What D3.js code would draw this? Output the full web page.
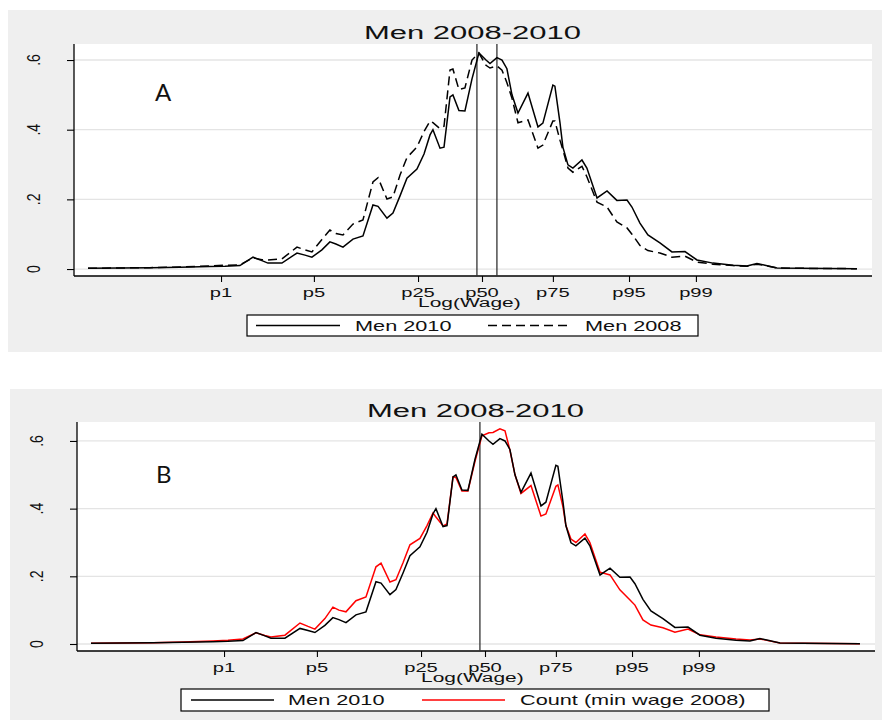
<!doctype html>
<html lang="en">
<head>
<meta charset="utf-8">
<title>Men 2008-2010</title>
<script src="https://d3js.org/d3.v7.min.js"></script>
<style>
  body { margin: 0; background: #fff; }
  text { font-family: "Liberation Sans", Arial, sans-serif; fill: #111; }
  .panel-label { font-family: Lato, "Open Sans", sans-serif; }
</style>
</head>
<body>
<div id="chart"></div>
<script>
var logWage = [4.000,4.208,4.403,4.598,4.793,4.891,4.988,5.073,5.131,5.170,
  5.261,5.359,5.411,5.456,5.521,5.573,5.612,5.658,5.723,5.788,
  5.853,5.886,5.944,5.983,6.029,6.074,6.139,6.185,6.224,6.243,
  6.289,6.315,6.354,6.373,6.412,6.451,6.497,6.542,6.588,6.614,
  6.659,6.692,6.724,6.757,6.796,6.861,6.926,6.958,7.023,7.036,
  7.069,7.088,7.121,7.153,7.212,7.244,7.310,7.375,7.439,7.505,
  7.537,7.589,7.641,7.719,7.797,7.882,7.960,8.064,8.194,8.285,
  8.350,8.402,8.480,8.629,9.000];

var men2010 = [.002,.003,.004,.005,.007,.008,.010,.034,.024,.017,
  .017,.046,.040,.034,.055,.078,.072,.063,.086,.095,
  .184,.180,.146,.161,.210,.261,.287,.330,.385,.400,
  .347,.350,.494,.500,.455,.454,.546,.620,.600,.590,
  .607,.600,.575,.500,.448,.505,.408,.419,.528,.525,
  .420,.350,.299,.290,.313,.290,.204,.224,.197,.198,
  .178,.132,.098,.075,.049,.050,.026,.017,.011,.009,
  .016,.011,.003,.002,.001];

var men2008 = [.002,.003,.004,.006,.009,.011,.012,.032,.027,.026,
  .029,.063,.055,.049,.085,.112,.102,.098,.129,.141,
  .250,.262,.201,.207,.270,.320,.350,.395,.425,.420,
  .403,.410,.571,.574,.515,.520,.600,.620,.585,.577,
  .583,.571,.535,.490,.420,.428,.347,.356,.425,.425,
  .370,.342,.290,.278,.295,.265,.192,.178,.135,.118,
  .100,.068,.053,.046,.034,.037,.020,.014,.010,.008,
  .014,.010,.003,.002,.001];

var countMinWage2008 = [.002,.003,.004,.006,.009,.011,.015,.033,.025,.021,
  .026,.062,.052,.044,.075,.109,.100,.095,.128,.139,
  .228,.239,.183,.190,.240,.293,.312,.350,.387,.375,
  .349,.355,.494,.492,.452,.452,.540,.615,.624,.625,
  .636,.630,.573,.500,.445,.468,.378,.384,.466,.470,
  .405,.350,.310,.300,.325,.300,.212,.204,.160,.130,
  .115,.071,.056,.048,.035,.044,.027,.021,.015,.012,
  .015,.010,.003,.002,.001];

// percentile ticks on the log wage axis
var pctLabels = ["p1","p5","p25","p50","p75","p95","p99"];
var pctValues = [4.865,5.469,6.146,6.562,7.023,7.518,7.953];
var yTickValues = [0, .2, .4, .6];
var yTickLabels = ["0", ".2", ".4", ".6"];
var refLinesA = [6.529, 6.659];
var refLinesB = [6.529];

var SX = 1.55; // horizontal stretch of the stata text

var W = 882, H = 720;
var svg = d3.select("#chart").append("svg")
  .attr("width", W).attr("height", H);

var panels = [
  { bg: [8, 10, 874, 342], left: 74, top: 44, width: 798, height: 232,
    yDomain: [-0.02, 0.646], label: "A", labelPos: [155, 101], refLines: refLinesA,
    series: [
      { name: "Men 2010", values: men2010, color: "#000", dash: null },
      { name: "Men 2008", values: men2008, color: "#000", dash: "9,5" }
    ],
    legend: { x: 247, y: 315, w: 451, h: 21, items: [[256, 340, 355], [488, 572, 585]] } },
  { bg: [10, 389, 872, 331], left: 77, top: 422, width: 798, height: 229,
    yDomain: [-0.0207, 0.656], label: "B", labelPos: [156, 483], refLines: refLinesB,
    series: [
      { name: "Men 2010", values: men2010, color: "#000", dash: null },
      { name: "Count (min wage 2008)", values: countMinWage2008, color: "#ff0000", dash: null }
    ],
    legend: { x: 181, y: 689, w: 588, h: 22, items: [[191, 274, 288], [422, 505, 520]] } }
];

function stext(g, x, y, str, size, anchor, sx) {
  return g.append("text")
    .attr("transform", "translate(" + x + "," + y + ") scale(" + (sx || SX) + ",1)")
    .attr("text-anchor", anchor || "middle")
    .style("font-size", size + "px")
    .text(str);
}

panels.forEach(function(p) {
  var g = svg.append("g");

  // grey graph region and white plot region
  g.append("rect")
    .attr("x", p.bg[0]).attr("y", p.bg[1]).attr("width", p.bg[2]).attr("height", p.bg[3])
    .attr("fill", "#efefef");
  g.append("rect")
    .attr("x", p.left).attr("y", p.top).attr("width", p.width).attr("height", p.height)
    .attr("fill", "#fff");

  var x = d3.scaleLinear().domain([3.909, 9.098]).range([p.left, p.left + p.width]);
  var y = d3.scaleLinear().domain(p.yDomain).range([p.top + p.height, p.top]);
  var bottom = p.top + p.height;

  // grid lines
  g.selectAll(".grid").data(yTickValues).enter().append("line")
    .attr("x1", p.left).attr("x2", p.left + p.width)
    .attr("y1", function(d) { return y(d); }).attr("y2", function(d) { return y(d); })
    .attr("stroke", "#e4e4e4").attr("stroke-width", 1.3);

  // y axis
  var yAxis = d3.axisLeft(y).tickValues(yTickValues).tickSize(7).tickFormat("");
  var ya = g.append("g").attr("transform", "translate(" + p.left + ",0)").call(yAxis);
  ya.select(".domain").attr("d", "M0," + p.top + "V" + bottom).attr("stroke-width", 1.3);
  ya.selectAll(".tick line").attr("stroke-width", 1.1);
  yTickValues.forEach(function(v, i) {
    g.append("text")
      .attr("transform", "translate(" + (p.left - 34) + "," + y(v) + ") scale(1.25,1) rotate(-90)")
      .attr("text-anchor", "middle")
      .style("font-size", "14px")
      .text(yTickLabels[i]);
  });

  // x axis with percentile ticks
  var xAxis = d3.axisBottom(x).tickValues(pctValues).tickSize(6).tickFormat("");
  var xa = g.append("g").attr("transform", "translate(0," + bottom + ")").call(xAxis);
  xa.select(".domain").attr("d", "M" + p.left + ",0H" + (p.left + p.width)).attr("stroke-width", 1.3);
  xa.selectAll(".tick line").attr("stroke-width", 1.1);
  pctValues.forEach(function(v, i) {
    stext(g, x(v), bottom + 21, pctLabels[i], 13);
  });
  stext(g, x(6.48), bottom + 31, "Log(Wage)", 13.5);

  // title
  stext(g, x(6.50), p.top - 5, "Men 2008-2010", 18, "middle", 1.72);

  // reference lines
  g.selectAll(".ref").data(p.refLines).enter().append("line")
    .attr("x1", function(d) { return x(d); }).attr("x2", function(d) { return x(d); })
    .attr("y1", p.top).attr("y2", bottom)
    .attr("stroke", "#333").attr("stroke-width", 1.3);

  // density curves
  var line = d3.line()
    .x(function(d, i) { return x(logWage[i]); })
    .y(function(d) { return y(d); });
  p.series.slice().reverse().forEach(function(s) {
    g.append("path")
      .attr("d", line(s.values))
      .attr("fill", "none")
      .attr("stroke", s.color)
      .attr("stroke-width", 1.5)
      .attr("stroke-dasharray", s.dash);
  });

  // panel letter
  g.append("text").attr("class", "panel-label")
    .attr("x", p.labelPos[0]).attr("y", p.labelPos[1])
    .style("font-size", "24px")
    .text(p.label);

  // legend
  var L = p.legend;
  g.append("rect")
    .attr("x", L.x).attr("y", L.y).attr("width", L.w).attr("height", L.h)
    .attr("fill", "#fff").attr("stroke", "#000").attr("stroke-width", 1.2);
  p.series.forEach(function(s, i) {
    var it = L.items[i], ly = L.y + L.h / 2;
    g.append("line")
      .attr("x1", it[0]).attr("x2", it[1]).attr("y1", ly).attr("y2", ly)
      .attr("stroke", s.color).attr("stroke-width", 1.4)
      .attr("stroke-dasharray", s.dash);
    stext(g, it[2], ly + 5, s.name, 14, "start");
  });
});
</script>
</body>
</html>
